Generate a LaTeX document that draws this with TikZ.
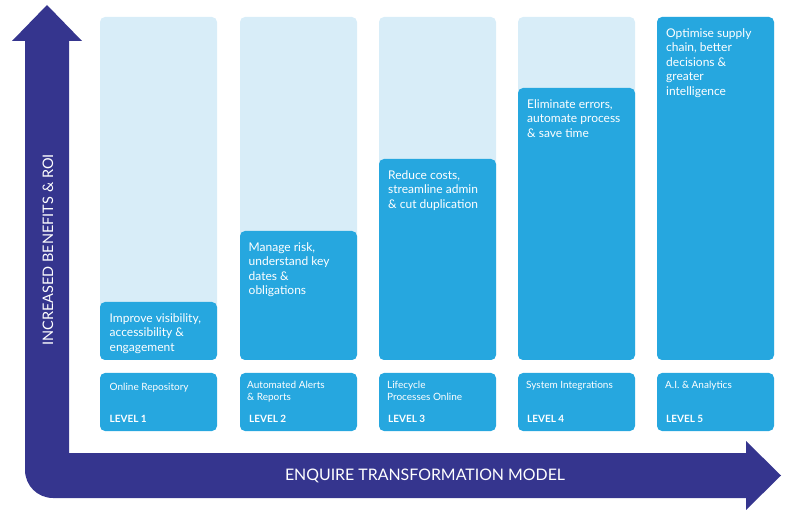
\documentclass[tikz,border=0pt]{standalone}
\usepackage{fontspec}
\setmainfont{Lato}
\definecolor{navy}{HTML}{35358E}
\definecolor{bblue}{HTML}{26A7DF}
\definecolor{lblue}{HTML}{D8EDF8}
\begin{document}
\begin{tikzpicture}[x=1pt,y=-1pt,
  lightbox/.style={fill=lblue,rounded corners=5pt},
  darkbox/.style={fill=bblue,rounded corners=5pt},
  maintxt/.style={anchor=north west,inner sep=0pt,align=left,text=white,font=\fontsize{12}{14.5}\selectfont},
  subtxt/.style={anchor=north west,inner sep=0pt,align=left,text=white,font=\fontsize{10}{12}\selectfont},
  lvltxt/.style={anchor=north west,inner sep=0pt,text=white,font=\fontsize{10}{12}\selectfont\bfseries}]
\useasboundingbox (0,0) rectangle (787,510);
% arrow frame
\fill[navy] (47,5) -- (82,41) -- (69,41) -- (69,453) -- (746,453) -- (746,441) -- (781,475.5) -- (746,510) -- (746,498) -- (53,498) .. controls (37.5,498) and (25,485.5) .. (25,470) -- (25,41) -- (12,41) -- cycle;
\node[text=white,font=\fontsize{15.9}{18}\selectfont] (title) at (425,476) {ENQUIRE TRANSFORMATION MODEL};
\node[text=white,rotate=90,font=\fontsize{14.5}{16}\selectfont] (yaxis) at (48,250) {INCREASED BENEFITS \& ROI};
% columns
\foreach \x/\t [count=\i] in {100/302,240/231,379/159,518/88,657/17}{
  \fill[lightbox] (\x,17) rectangle ++(117,343);
  \fill[darkbox] (\x,\t) rectangle (\x+117,360);
  \fill[darkbox] (\x,373) rectangle (\x+117,431);
}
\node[maintxt] (t1) at (109.5,313) {Improve visibility,\\accessibility \&\\engagement};
\node[maintxt] (t2) at (248.5,242) {Manage risk,\\understand key\\dates \&\\obligations};
\node[maintxt] (t3) at (388,170) {Reduce costs,\\streamline admin\\\& cut duplication};
\node[maintxt] (t4) at (527,99) {Eliminate errors,\\automate process\\\& save time};
\node[maintxt] (t5) at (666,28) {Optimise supply\\chain, better\\decisions \&\\greater\\intelligence};
\node[subtxt] (s1) at (109.5,383) {Online Repository};
\node[subtxt] (s2) at (247,381) {Automated Alerts\\\& Reports};
\node[subtxt] (s3) at (387,381) {Lifecycle\\Processes Online};
\node[subtxt] (s4) at (526,381) {System Integrations};
\node[subtxt] (s5) at (665,381) {A.I. \& Analytics};
\node[lvltxt] (l1) at (109.5,415) {LEVEL 1};
\node[lvltxt] (l2) at (249,415) {LEVEL 2};
\node[lvltxt] (l3) at (388,415) {LEVEL 3};
\node[lvltxt] (l4) at (527,415) {LEVEL 4};
\node[lvltxt] (l5) at (666,415) {LEVEL 5};
\end{tikzpicture}
\end{document}
